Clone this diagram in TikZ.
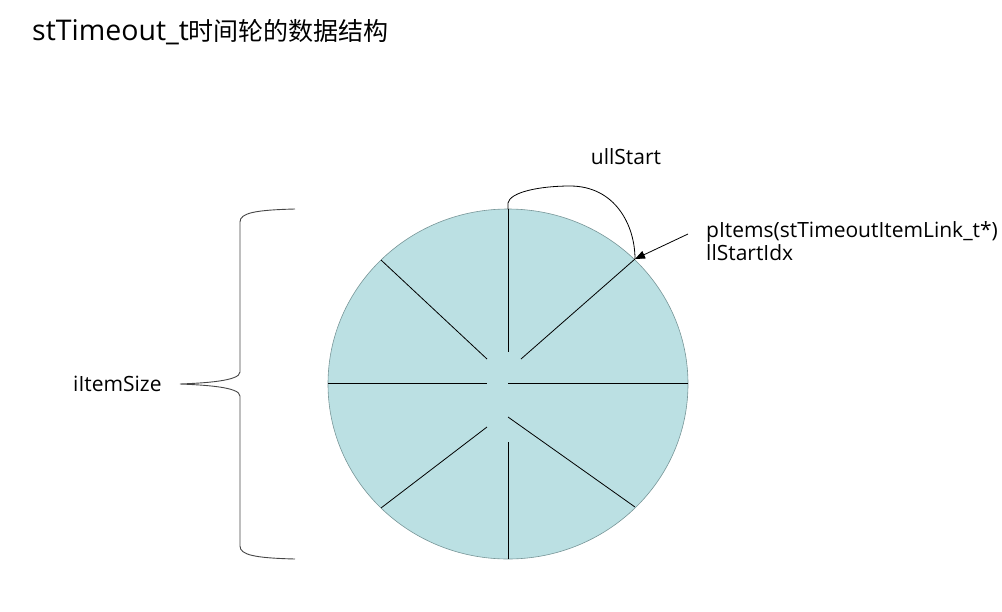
\documentclass[tikz,border=0pt]{standalone}
\usepackage{fontspec}
\setmainfont{Open Sans}
\newfontfamily\cjk{Noto Sans CJK SC}
\usetikzlibrary{arrows.meta}
\definecolor{wheelfill}{RGB}{187,224,227}
\definecolor{wheeledge}{RGB}{120,150,152}
\definecolor{bracecol}{RGB}{70,70,70}
\tikzset{
  spoke/.style={draw=black, line width=0.8pt},
  lbl/.style={inner sep=0pt, font=\fontsize{21}{23}\selectfont, text=black},
  conn/.style={draw=black, line width=0.8pt},
}
\begin{document}
\begin{tikzpicture}[x=1pt,y=-1pt]
\useasboundingbox (0,0) rectangle (1002,611);
% title
\node[inner sep=0pt, anchor=west, font=\fontsize{25}{30}\selectfont] (title) at (32,32) {{\fontsize{28.5}{30}\selectfont stTimeout\_t}{\cjk 时间轮的数据结构}};
% wheel
\coordinate (c) at (508,384);
\draw[fill=wheelfill, draw=wheeledge, line width=0.6pt] (c) ellipse [x radius=180, y radius=175];
\coordinate (rimT) at (508,209);
\coordinate (rimB) at (508,559);
\coordinate (rimL) at (328,383);
\coordinate (rimR) at (688,383);
\coordinate (rimTL) at (381,260);
\coordinate (rimTR) at (635,259);
\coordinate (rimBL) at (381,508);
\coordinate (rimBR) at (635,507);
\draw[spoke] (rimT) -- (508,352);
\draw[spoke] (rimB) -- (508,442);
\draw[spoke] (rimL) -- (487,383);
\draw[spoke] (rimR) -- (508,383);
\draw[spoke] (rimTL) -- (487,359);
\draw[spoke] (rimTR) -- (521,359);
\draw[spoke] (rimBL) -- (487,427);
\draw[spoke] (rimBR) -- (508,417);
% ullStart curve
\node[lbl] (ull) at (626,157) {ullStart};
\draw[conn] (rimT) -- (508,203) .. controls (510,192) and (540,186) .. (570,186)
  .. controls (615,186) and (635,225) .. (rimTR);
% pItems arrow
\node[lbl, anchor=west, align=left] (pitems) at (706,241) {pItems(stTimeoutItemLink\_t*)\\llStartIdx};
\coordinate (arrstart) at (688,234);
\draw[conn, -{Triangle[length=10pt,width=8pt]}] (arrstart) -- (rimTR);
% brace
\node[lbl, anchor=west] (size) at (73,384) {iItemSize};
\coordinate (tip) at (180,384);
\draw[draw=bracecol, line width=0.9pt]
  (295,209) .. controls (255,210) and (240,213) .. (240,222)
  -- (240,372) .. controls (240,381) and (205,383) .. (tip)
  .. controls (205,385) and (240,387) .. (240,396)
  -- (240,546) .. controls (240,555) and (255,558) .. (295,559);
\end{tikzpicture}
\end{document}
